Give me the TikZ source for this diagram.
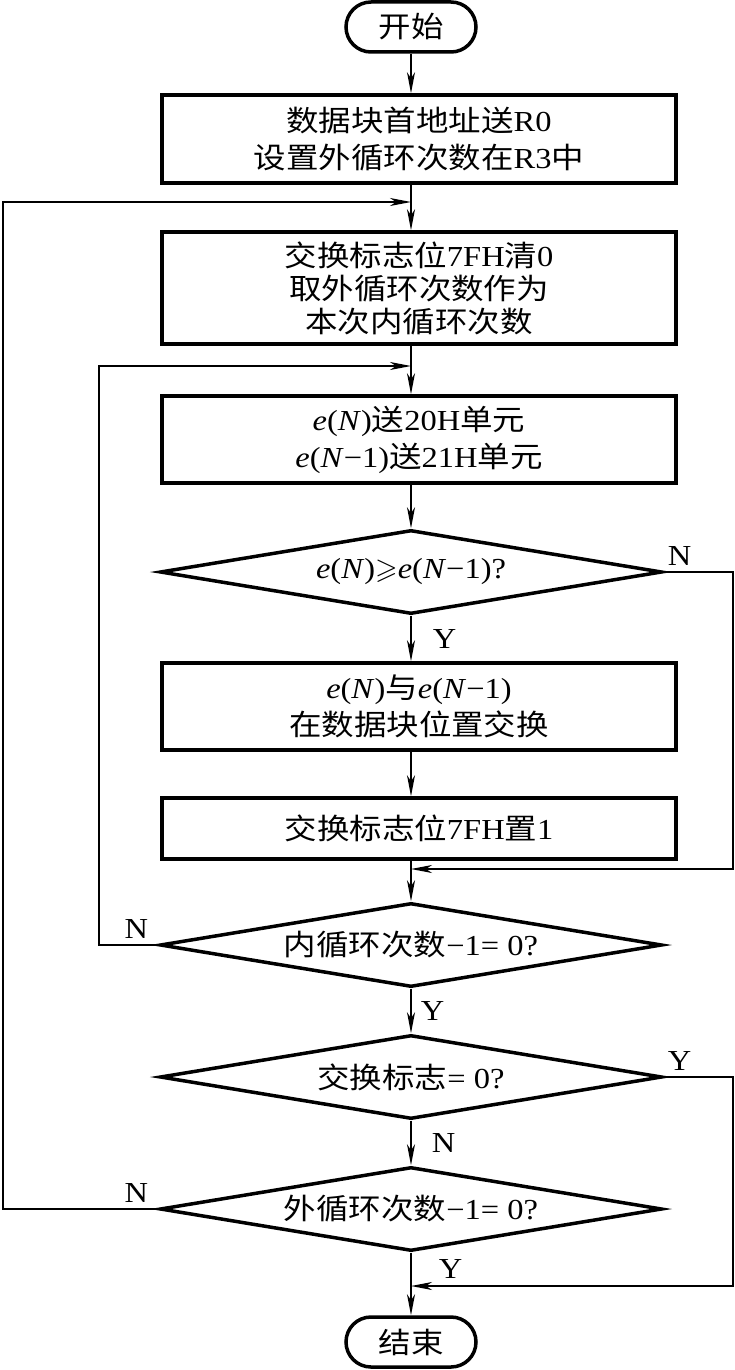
\documentclass[tikz,border=0pt]{standalone}
\usepackage{amssymb}
\usepackage{fontspec}
\setmainfont[FakeStretch=1.12]{Liberation Serif}
\newfontfamily\zhfont[FakeStretch=1.12]{Noto Sans CJK SC}
\newcommand{\zh}[1]{{\zhfont #1}}
\newcommand{\eN}{\textit{e}(\textit{N})}
\newcommand{\eNm}{\textit{e}(\textit{N}−1)}
\usetikzlibrary{arrows.meta,positioning,shapes.geometric}
\tikzset{
  term/.style={draw,line width=3.5pt,rounded corners=25pt,minimum width=130pt,minimum height=50pt,inner sep=0pt},
  proc/.style={draw,line width=3.5pt,minimum width=514pt,align=center,inner sep=0pt},
  cond/.style={diamond,draw,line width=3.5pt,aspect=6,minimum width=502pt,minimum height=84pt,inner sep=0pt},
  wire/.style={line width=1.5pt},
  flow/.style={line width=1.5pt,-{Stealth[length=21pt,width=8pt,inset=6pt]}},
  yn/.style={inner sep=0pt},
  every picture/.style={baseline={(current bounding box.center)}}
}

\begin{document}
\begin{tikzpicture}[x=1pt,y=-1pt,font=\fontsize{29}{37}\selectfont]
  \useasboundingbox (0,0) rectangle (735,1370);
  \node[term] (start) at (411,27) {\zh{开始}};
  \node[proc,minimum height=88pt] (init) at (419,139) {\zh{数据块首地址送}R0\\\zh{设置外循环次数在}R3\zh{中}};
  \node[proc,minimum height=112pt,font=\fontsize{29}{33}\selectfont] (clear) at (419,288) {\zh{交换标志位}7FH\zh{清}0\\\zh{取外循环次数作为}\\\zh{本次内循环次数}};
  \node[proc,minimum height=87pt] (load) at (419,439.5) {\eN\zh{送}20H\zh{单元}\\\eNm\zh{送}21H\zh{单元}};
  \node[cond] (cmp) at (411,572) {\eN$\geqslant$\eNm?};
  \node[proc,minimum height=87pt] (swap) at (419,706.5) {\eN\zh{与}\eNm\\\zh{在数据块位置交换}};
  \node[proc,minimum height=61pt] (setf) at (419,828.5) {\zh{交换标志位}7FH\zh{置}1};
  \node[cond] (inner) at (411,945) {\zh{内循环次数}−1= 0?};
  \node[cond] (flag) at (411,1077) {\zh{交换标志}= 0?};
  \node[cond] (outer) at (411,1209) {\zh{外循环次数}−1= 0?};
  \node[term] (stop) at (411,1342) {\zh{结束}};

  % joints of the loops
  \coordinate (outerin) at (411,202);
  \coordinate (innerin) at (411,366);
  \coordinate (mrgA) at (411,869);
  \coordinate (mrgB) at (411,1286);
  \coordinate (lftA) at (99,366);
  \coordinate (lftB) at (3,202);
  \coordinate (rgtA) at (733,869);
  \coordinate (rgtB) at (733,1286);

  \draw[flow] (start) -- (start |- init.north);
  \draw[flow] (start |- init.south) -- (start |- clear.north);
  \draw[flow] (start |- clear.south) -- (start |- load.north);
  \draw[flow] (start |- load.south) -- (cmp.north);
  \draw[flow] (cmp.south) -- (cmp |- swap.north) node[yn,midway,right=21pt] {Y};
  \draw[flow] (cmp |- swap.south) -- (cmp |- setf.north);
  \draw[flow] (cmp |- setf.south) -- (inner.north);
  \draw[flow] (cmp.east) -| (rgtA) -- (mrgA);
  \node[yn,anchor=south west] (nA) at ([xshift=4pt,yshift=6pt]cmp.east) {N};

  \draw[flow] (inner.west) -| (lftA) -- (innerin);
  \node[yn,anchor=south east] (nB) at ([xshift=-10pt,yshift=6pt]inner.west) {N};
  \draw[flow] (inner.south) -- (flag.north) node[yn,midway,right=9pt] {Y};

  \draw[flow] (flag.east) -| (rgtB) -- (mrgB);
  \node[yn,anchor=south west] (yA) at ([xshift=4pt,yshift=6pt]flag.east) {Y};
  \draw[flow] (flag.south) -- (outer.north) node[yn,midway,right=20pt] {N};

  \draw[flow] (outer.west) -| (lftB) -- (outerin);
  \node[yn,anchor=south east] (nC) at ([xshift=-10pt,yshift=6pt]outer.west) {N};
  \draw[flow] (outer.south) -- (stop.north) node[yn,pos=0.26,right=27pt] {Y};
\end{tikzpicture}
\end{document}
